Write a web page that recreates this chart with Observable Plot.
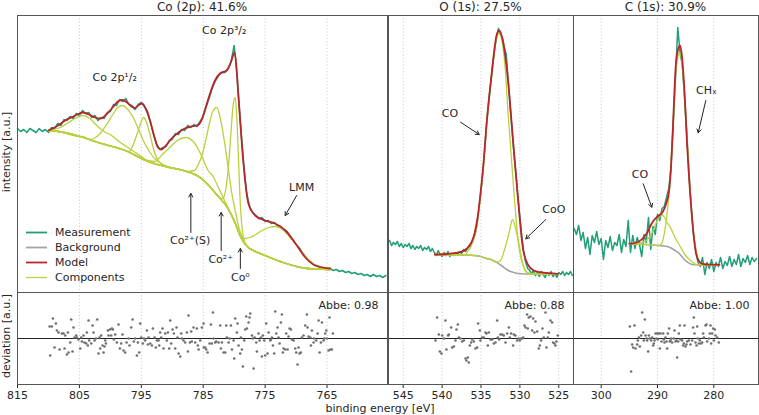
<!DOCTYPE html>
<html><head><meta charset="utf-8">
<script src="https://cdn.jsdelivr.net/npm/d3@7"></script>
<script src="https://cdn.jsdelivr.net/npm/@observablehq/plot@0.6"></script>
<style>
body{margin:0;background:#fff;}
#fig{position:relative;width:759px;height:415px;overflow:hidden;font-family:"DejaVu Sans",sans-serif;color:#262626;background:#fff}
.abs{position:absolute}
.ttl{position:absolute;top:0;font-size:12px;line-height:14px;text-align:center;white-space:nowrap}
.lab{position:absolute;font-size:11px;white-space:nowrap;transform:translate(-50%,-50%)}
.rot{transform:translate(-50%,-50%) rotate(-90deg)}
.leg{position:absolute;font-size:11px;line-height:15px;white-space:nowrap}
</style></head><body><div id="fig"></div>
<script>
// ---------- data ----------
const panelTitles = ["Co (2p): 41.6%", "O (1s): 27.5%", "C (1s): 30.9%"];
const coTicks = [815, 805, 795, 785, 775, 765];
const oTicks = [545, 540, 535, 530, 525];
const cTicks = [300, 290, 280];
const abbe = [0.98, 0.88, 1.00];

// measurement grids (start energy, step) and intensities
const coMeasStart = 815, coMeasStep = 0.5;
const coMeasI = [164,161,163,160,164,162,160,164,161,163,
160,165,164,169,167,173,172,176,174,179,
177,182,179,180,175,177,172,175,174,180,
181,188,187,193,191,194,188,187,183,188,
190,186,181,170,158,148,143,145,146,152,
153,159,158,163,162,167,165,168,166,171,
176,186,195,205,212,217,220,220,224,231,
247,215,170,131,100,86,80,77,74,75,
71,72,69,70,67,66,62,61,56,53,
48,45,40,36,32,30,27,27,24,25,
23,24,22,23,21,22,20,21,19,20,
18,19,17,18,16,18,16,17,15,17];
const oMeasStart = 546.75, oMeasStep = 0.25;
const oMeasI = [52,47,50,48,51,46,49,45,48,46,
49,44,47,43,46,44,47,42,45,43,
46,41,44,40,37,42,38,36,40,37,
41,36,39,37,40,38,41,39,43,41,
44,47,50,53,58,68,85,102,122,145,
172,192,210,228,243,256,264,258,255,245,
238,212,185,162,138,118,95,75,56,40,
30,24,22,19,22,17,20,16,21,18,
15,20,17,21,16,19,15,20,18,21,
17,20,18,21,17];
const cMeasStart = 304.8, cMeasStep = 0.4;
const cMeasI = [64,58,67,52,60,44,55,38,57,50,
61,48,54,33,52,45,56,42,50,47,
58,40,53,46,72,40,57,44,55,48,
36,58,50,75,43,66,58,78,72,84,
86,95,104,125,170,215,265,240,228,196,
160,118,85,58,42,30,26,35,18,30,
24,33,21,30,26,35,24,31,27,36,
26,33,28,38,26,34,30,37,28,35,
31,34];

// model curves [energy, intensity]
const coModel = [[810,162],[809,165],[808,169],[807.3,172],[806,176],[805,179],[804.5,180],[803.5,178],[802.5,175],[801.6,174],[800.5,179],[799.5,186],[798.8,191],[798.1,192.5],[797.3,190],[796.6,186],[796.1,184.5],[795.5,187],[794.9,189],[794.3,184],[793.6,172],[793,158],[792.3,145],[791.8,143],[791,147],[790.1,154],[789,160],[788,164],[787,166],[786,167],[785.3,172],[784.7,183],[784,197],[783.1,212],[782.3,219],[781.2,222],[780.6,229],[779.9,240],[779.3,195],[778.5,129],[777.7,89],[776.6,77],[775,72],[773.4,69],[771.7,62],[770.1,49],[768.5,35],[766.9,27],[764.5,24]];
const oModel = [[540.94,38],[539.5,38.5],[537.7,40.3],[536.8,44],[536.2,50.3],[535.8,60],[535.4,77],[535.05,100],[534.7,127],[534.3,167],[533.65,217],[533,257],[532.66,262],[532.15,250],[531.5,210],[530.86,150],[530.2,90],[529.6,43.7],[528.9,27],[528.2,22],[527.4,20.3],[525.1,18.7]];
const cModel = [[295,48.7],[294,49.5],[293.3,51],[292.7,53.7],[291.8,60],[290.9,70.3],[290,76],[289.1,80.3],[288.5,88],[287.9,103.7],[287.6,125],[287.3,160],[286.75,227],[286.4,242],[286,247],[285.65,236],[285.3,210],[284.7,143.7],[283.9,77],[283.2,40.3],[282.6,31],[282,28.7],[280.5,27.8],[279,27.7]];

// backgrounds
const coBg = [[810,162],[808.4,161],[804.9,156],[802,150],[797.6,142],[793.9,131],[791.1,126],[788.2,122],[785.5,115],[784.4,109],[782.7,97],[781.1,85],[779.8,69],[779,56],[777.9,46],[776.9,42],[775,37],[772.1,30],[768.2,24],[764.5,23]];
const oBg = [[540.94,38],[537,37.5],[535.9,37],[535.15,36.3],[534.3,34],[533.6,32.5],[533,30.3],[532.3,26.5],[531.7,23],[531,20.5],[530,18.7],[527.5,18.4],[525.1,18.3]];
const cBg = [[295,48.7],[292,48],[289.7,47],[288.8,46.5],[287.9,45.3],[287,42.5],[286.1,38.7],[285.4,34],[284.7,30.3],[284,28.3],[283.2,27.7],[281,27.5],[279,27.5]];

// components (peak regions; tails follow the background)
const coComp1 = [[810,162],[808.5,164],[807,169],[805.7,174],[804.5,177],[803.3,174],[802.2,167],[801,161],[799.8,157],[798.6,151],[797.4,146],[796.2,141],[795,136]];
const coComp2 = [[804.5,156],[803.2,153],[802.4,155],[801.5,160],[800.6,168],[799.6,178],[798.8,185],[798.1,187],[797.3,184],[796.4,176],[795.5,164],[794.6,151],[793.7,141],[792.7,133],[791.5,128],[790,124.5]];
const coComp3 = [[798,143],[797,141],[796.3,148],[795.6,160],[795,171],[794.65,175],[794.2,171],[793.6,158],[793,143],[792.3,132],[791.3,127]];
const coComp4 = [[794,132],[792.8,131],[791.6,138],[790.4,145],[789.2,152],[787.9,155],[786.6,151],[785.3,137],[784.2,122],[783.4,116],[782.4,103],[781.4,90],[780.4,77]];
const coComp5 = [[787.6,121],[786.4,122],[785.8,128],[785.2,137],[784.6,152],[784,169],[783.4,182],[782.8,185],[782.2,173],[781.6,152],[781,126],[780.4,100],[779.8,81],[779.2,64],[778.6,54],[777.9,46]];
const coComp6 = [[782.5,96],[782.23,94.5],[781.93,93.7],[781.63,96],[781.33,104],[781.03,119],[780.73,141],[780.43,168],[780.13,189],[779.83,195],[779.58,176],[779.33,138],[779.08,98],[778.83,72],[778.58,58],[778.33,51],[777.9,46]];
const coLMM = [[779,57],[778.3,54],[777.5,55],[776.5,58],[775.5,62],[774.4,65],[773.3,66],[772.2,63],[771.1,56],[770,48],[769,40],[768,33],[767,28],[766,25.5],[764.5,24]];
const oCO = [[536.8,40],[536.2,47.5],[535.8,57],[535.4,74],[535.05,97],[534.7,124],[534.3,164],[533.65,214],[533,254],[532.66,259],[532.3,252],[531.9,225],[531.5,177],[530.86,110],[530.2,50],[529.6,27],[529,20],[528.5,19]];
const oCoO = [[534,34],[533,30.3],[532.5,32],[531.94,43.7],[531.37,60.3],[530.95,73],[530.44,60],[530,43.7],[529.58,27],[529.15,20.3],[528.6,18.6]];
const cCO = [[295,48.7],[293.3,49.5],[292.5,50.5],[291.8,53],[290.9,60.3],[290.2,70],[289.6,76],[289.25,78],[288.8,75.5],[288.3,70],[287.7,65],[286.8,54],[285.9,45.3],[285,37],[284.15,32],[283,27.8],[282.2,27.6]];
const cCHx = [[290.5,47.3],[289.7,47],[289.2,50],[288.7,62],[288.2,83.7],[287.8,110],[287.3,160],[286.75,220],[286.3,237],[286,240],[285.6,226],[285,177],[284.5,130],[284.1,93.7],[283.6,60],[283.2,43.7],[282.75,33],[282.3,28.7],[281.5,27.6],[280.5,27.5]];

// residuals [energy, deviation]
const coDev = [[809.72,-17],[809.82,12],[809.28,20],[809.45,12],[808.8,15],[809.02,-9],[808.64,8],[808.21,-11],[808.37,6],[807.83,5],[807.56,5],[807.29,3],[807.4,-10],[807.02,-16],[806.86,6],[806.75,-14],[806.48,-4],[806.32,19],[806.11,-13],[805.95,11],[805.78,1],[805.41,1],[805.52,3],[805.14,-1],[804.87,-10],[804.71,1],[804.6,-3],[804.33,3],[804.17,-4],[803.9,-5],[803.79,6],[803.63,-7],[803.52,18],[803.42,-2],[803.09,-5],[802.88,13],[802.72,6],[802.55,-2],[802.34,0],[802.12,19],[801.91,-15],[801.75,1],[801.64,-10],[801.48,3],[801.26,-7],[801.1,-14],[800.94,-8],[800.83,-2],[800.72,-5],[800.4,8],[800.29,3],[800.08,9],[799.86,3],[799.75,10],[799.59,9],[799.43,-1],[799.22,4],[798.95,-4],[798.68,14],[798.46,-10],[798.25,-5],[798.03,4],[797.87,-12],[797.6,-14],[797.38,-4],[797.06,0],[796.9,-7],[796.63,11],[796.41,19],[796.2,-3],[795.98,0],[795.71,-17],[795.55,-4],[795.34,-14],[795.18,15],[795.01,1],[794.75,-5],[794.58,0],[794.37,-2],[794.1,8],[793.94,-6],[793.83,1],[793.56,-5],[793.29,-7],[793.13,10],[792.86,1],[792.65,-9],[792.48,-2],[792.21,-2],[792.11,-7],[791.95,6],[791.78,1],[791.57,10],[791.41,-10],[791.14,5],[790.87,-2],[790.71,6],[790.49,-10],[790.33,18],[790.17,-5],[789.95,9],[789.74,5],[789.52,-10],[789.31,11],[789.15,1],[788.98,-15],[788.71,-18],[788.55,5],[788.44,0],[788.18,-2],[787.91,-4],[787.64,6],[787.48,-13],[787.37,23],[787.15,-4],[786.94,7],[786.83,-3],[786.56,11],[786.29,-4],[786.02,10],[785.86,-7],[785.75,-11],[785.48,-2],[785.21,11],[784.94,15],
[784.9,-9],[784.67,-9],[784.51,-11],[784.3,-14],[783.97,-5],[783.76,14],[783.6,-5],[783.43,26],[783.33,0],[783.06,-4],[782.9,-3],[782.52,-4],[782.25,13],[782.14,-10],[781.98,-4],[781.71,-14],[781.44,-14],[781.28,13],[781.17,1],[780.9,-4],[780.74,0],[780.53,13],[780.36,-11],[780.09,-2],[779.99,-20],[779.83,20],[779.56,6],[779.45,15],[779.29,-7],[779.02,-15],[778.91,1],[778.75,-11],[778.59,-28],[778.37,-2],[778.21,9],[778.05,22],[777.94,10],[777.67,16],[777.51,21],[777.4,25],[777.13,3],[776.97,0],[776.86,-30],[776.7,1],[776.43,-4],[776.33,-13],[776.06,5],[775.9,-2],[775.68,1],[775.52,-18],[775.36,3],[775.14,-2],[774.98,-17],[774.82,15],[774.6,-15],[774.44,6],[774.17,-2],[774.06,-1],[773.9,1],[773.74,-7],[773.53,-15],[773.36,27],[773.2,5],[772.99,11],[772.83,1],[772.66,-5],[772.45,16],[772.29,24],[772.13,-14],[772.02,-10],[771.75,-11],[771.59,5],[771.37,-11],[771.21,2],[771.05,10],[770.83,9],[770.67,-1],[770.4,-2],[770.13,-10],[769.97,-14],[769.76,-26],[769.59,-9],[769.43,-15],[769.22,-14],[769.06,1],[768.79,3],[768.52,13],[768.25,24],[768.14,11],[767.98,2],[767.71,1],[767.6,-7],[767.44,8],[767.17,-4],[767.06,0],[766.74,-2],[766.52,5],[766.36,18],[766.2,-14],[765.99,-4],[765.82,16],[765.56,-2],[765.45,0],[765.29,5],[765.12,8],[765.02,0],[764.75,-12],[764.59,21],[764.48,-11],[764.21,-11],[764.05,5]];
const oDev = [[540.85,-2],[540.64,21],[540.42,4],[540.29,-13],[540.08,-15],[539.99,3],[539.78,0],[539.57,18],[539.44,-11],[539.22,3],[539.14,4],[538.84,11],[538.71,-9],[538.49,-8],[538.28,-2],[538.15,9],[537.98,14],[537.85,1],[537.64,0],[537.42,-3],[537.21,-2],[536.99,-20],[536.87,-22],[536.69,-19],[536.57,-24],[536.44,-7],[536.27,-4],[536.14,-1],[535.92,-3],[535.71,-10],[535.49,-9],[535.37,15],[535.15,8],[535.07,-2],[534.85,1],[534.64,1],[534.42,6],[534.29,5],[534.12,-7],[533.99,6],[533.78,-1],[533.57,-1],[533.35,-5],[533.14,-4],[532.92,18],[532.84,1],[532.67,-1],[532.5,4],[532.28,4],[532.07,3],[531.85,-4],[531.64,5],[531.42,11],[531.3,1],[531.13,5],[530.87,-7],[530.78,4],[530.57,3],[530.35,-2],[530.14,0],[530.01,-2],[529.84,0],[529.71,0],[529.58,1],[529.41,13],[529.28,11],[529.07,24],[528.98,10],[528.85,21],[528.64,22],[528.43,8],[528.3,20],[528.13,6],[528,17],[527.78,7],[527.57,-10],[527.44,-7],[527.27,-2],[527.1,10],[526.93,1],[526.71,26],[526.58,-9],[526.41,1],[526.28,6],[526.07,18],[525.86,16],[525.73,-4],[525.56,-5],[525.43,-7],[525.3,-3],[525.13,3]];
const cDev = [[294.91,12],[294.68,-33],[294.5,-6],[294.32,-9],[294.08,13],[293.91,-10],[293.61,-6],[293.49,-2],[293.31,1],[293.14,-8],[292.9,3],[292.72,26],[292.55,6],[292.43,-2],[292.25,19],[292.13,3],[291.95,0],[291.83,-2],[291.66,-13],[291.54,3],[291.36,0],[291.12,-2],[290.95,1],[290.77,-7],[290.65,-5],[290.53,-2],[290.35,5],[290.18,0],[290.06,5],[289.94,-1],[289.76,5],[289.58,-10],[289.47,5],[289.29,-3],[288.99,5],[288.87,-1],[288.76,-4],[288.58,1],[288.4,-3],[288.28,-10],[288.16,5],[287.93,10],[287.81,-3],[287.69,-2],[287.57,0],[287.39,-4],[287.1,0],[286.98,8],[286.8,-3],[286.62,-2],[286.51,-19],[286.33,-3],[286.21,5],[286.03,13],[285.91,-1],[285.62,-2],[285.44,-7],[285.32,-5],[285.2,13],[285.03,-8],[284.85,-6],[284.73,-3],[284.43,-2],[284.14,-6],[283.84,-2],[283.66,11],[283.55,21],[283.43,5],[283.25,-4],[283.07,-7],[282.95,12],[282.84,0],[282.66,-5],[282.48,-2],[282.24,-5],[282.07,-4],[281.89,5],[281.77,1],[281.47,13],[281.3,14],[281.18,-3],[280.88,0],[280.7,5],[280.59,13],[280.47,-5],[280.29,5],[280.11,10],[279.99,-2],[279.82,9],[279.7,3],[279.4,1],[279.11,-4]];

// annotations
const coNotes = [{E:799.3,I:215,t:"Co 2p¹/₂"},{E:781.6,I:262,t:"Co 2p³/₂"},{E:769.1,I:105,t:"LMM"},{E:787.1,I:52,t:"Co²⁺(S)"},{E:782.17,I:33,t:"Co²⁺"},{E:779.0,I:15,t:"Co⁰"}];
const coArrows = [{x1:769.9,y1:97,x2:771.75,y2:77},{x1:787.0,y1:60,x2:787.0,y2:99},{x1:782.1,y1:42,x2:782.1,y2:80},{x1:779.0,y1:24,x2:779.0,y2:44}];
const oNotes = [{E:538.98,I:179,t:"CO"},{E:525.64,I:83,t:"CoO"}];
const oArrows = [{x1:537.63,y1:170.3,x2:535.23,y2:158},{x1:526.67,y1:73,x2:529.24,y2:53.7}];
const cNotes = [{E:293.11,I:117.7,t:"CO"},{E:281.3,I:202,t:"CHₓ"}];
const cArrows = [{x1:292.54,y1:108.7,x2:291.01,y2:85.3},{x1:281.42,y1:192,x2:282.77,y2:159.7}];

const legendItems = [["Measurement","#1f9e78",1.8],["Background","#a3a3a3",1.8],["Model","#b8262b",1.8],["Components","#bbd03c",1.3]];

// ---------- drawing ----------
const teal = "#1f9e78", red = "#b8262b", yg = "#bbd03c", gray = "#a3a3a3";
const frameColor = "#555";
const fig = document.getElementById("fig");
const baseStyle = {overflow:"visible", background:"transparent", fontFamily:"DejaVu Sans, sans-serif", fontSize:"11px", color:"#262626"};

function meas(start, step, vals){ return vals.map((I,i)=>({E: +(start - i*step).toFixed(3), I})); }
function withTails(comp, bg){
  const hi = d3.max(comp, d=>d[0]), lo = d3.min(comp, d=>d[0]);
  return [...bg.filter(d=>d[0] > hi + 0.05), ...comp, ...bg.filter(d=>d[0] < lo - 0.05)].sort((a,b)=>a[0]-b[0]);
}
function place(el, left, top){
  const w = document.createElement("div"); w.className = "abs";
  w.style.left = left + "px"; w.style.top = top + "px";
  w.appendChild(el); fig.appendChild(w);
}
function topPlot(p){
  return Plot.plot({
    width: p.width, height: 277, marginTop:0, marginRight:0, marginBottom:0, marginLeft:0,
    x: {domain: p.domain, axis: null},
    y: {domain: [0, 277], axis: null},
    style: baseStyle,
    marks: [
      Plot.ruleX(p.ticks, {stroke:"#c4c4c4", strokeDasharray:"1,2.3"}),
      Plot.line(p.meas, {x:"E", y:"I", stroke: teal, strokeWidth: 1.5}),
      Plot.line(p.bg, {x:d=>d[0], y:d=>d[1], stroke: gray, strokeWidth: 1.6, curve:"monotone-x"}),
      ...p.comps.map(c => Plot.line(withTails(c, p.bg), {x:d=>d[0], y:d=>d[1], stroke: yg, strokeWidth: 1.3, curve:"monotone-x"})),
      Plot.line(p.model, {x:d=>d[0], y:d=>d[1], stroke: red, strokeWidth: 1.8, curve:"monotone-x"}),
      Plot.arrow(p.arrows, {x1:"x1", y1:"y1", x2:"x2", y2:"y2", stroke:"#222", strokeWidth:1, headLength:6}),
      Plot.text(p.notes, {x:"E", y:"I", text:"t", fill:"#262626", fontSize:11}),
      Plot.frame({stroke: frameColor, strokeWidth:1})
    ]
  });
}
function bottomPlot(p){
  return Plot.plot({
    width: p.width, height: 92 + 24, marginTop:0, marginRight:0, marginBottom:24, marginLeft:0,
    x: {domain: p.domain, ticks: p.ticks, tickSize: 4, tickPadding: 3, label: null, tickFormat: d => String(d)},
    y: {domain: [-46, 46], axis: null},
    style: baseStyle,
    marks: [
      Plot.ruleX(p.ticks, {stroke:"#c4c4c4", strokeDasharray:"1,2.3"}),
      Plot.ruleY([0], {stroke:"#222", strokeWidth:1}),
      Plot.dot(p.dev, {x:d=>d[0], y:d=>d[1], r:1.3, fill:"#707070"}),
      Plot.text([p.abbe], {frameAnchor:"top-right", dx:-9, dy:13, lineAnchor:"middle", textAnchor:"end", text:d=>"Abbe: " + d.toFixed(2), fill:"#262626", fontSize:11}),
      Plot.frame({stroke: frameColor, strokeWidth:1})
    ]
  });
}

const panels = [
  {left:17, width:370, domain:[815, 755.23], ticks:coTicks, meas:meas(coMeasStart, coMeasStep, coMeasI), model:coModel, bg:coBg,
   comps:[coComp1, coComp2, coComp3, coComp4, coComp5, coComp6, coLMM], notes:coNotes, arrows:coArrows, dev:coDev, abbe:abbe[0]},
  {left:388, width:185, domain:[546.89, 523.11], ticks:oTicks, meas:meas(oMeasStart, oMeasStep, oMeasI), model:oModel, bg:oBg,
   comps:[oCO, oCoO], notes:oNotes, arrows:oArrows, dev:oDev, abbe:abbe[1]},
  {left:573, width:185, domain:[304.92, 272.06], ticks:cTicks, meas:meas(cMeasStart, cMeasStep, cMeasI), model:cModel, bg:cBg,
   comps:[cCO, cCHx], notes:cNotes, arrows:cArrows, dev:cDev, abbe:abbe[2]}
];

panels.forEach((p, i) => {
  place(topPlot(p), p.left, 15);
  place(bottomPlot(p), p.left, 292);
  const t = document.createElement("div"); t.className = "ttl";
  t.style.left = p.left + "px"; t.style.width = p.width + "px"; t.textContent = panelTitles[i];
  fig.appendChild(t);
});

function label(text, x, y, rot){
  const d = document.createElement("div"); d.className = "lab" + (rot ? " rot" : "");
  d.style.left = x + "px"; d.style.top = y + "px"; d.textContent = text; fig.appendChild(d);
}
label("intensity [a.u.]", 6, 152, true);
label("deviation [a.u.]", 6, 336, true);
label("binding energy [eV]", 380, 408, false);

legendItems.forEach(([name, color, w], i) => {
  const row = document.createElement("div"); row.className = "leg";
  row.style.left = "26px"; row.style.top = (225 + i*15) + "px";
  row.innerHTML = `<svg width="22" height="15" style="vertical-align:top"><line x1="0" x2="21" y1="7.5" y2="7.5" stroke="${color}" stroke-width="${w}"/></svg><span style="margin-left:7px">${name}</span>`;
  fig.appendChild(row);
});
</script></body></html>
